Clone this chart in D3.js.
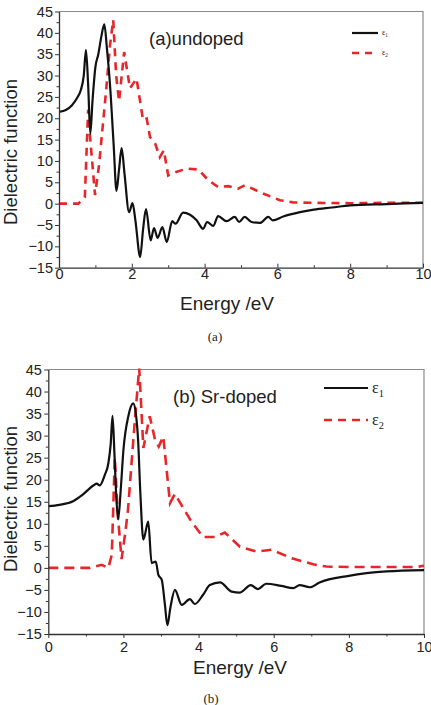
<!DOCTYPE html>
<html>
<head>
<meta charset="utf-8">
<script src="https://cdn.jsdelivr.net/npm/d3@7"></script>
<style>
  body { margin: 0; background: #fff; }
  svg { display: block; }
  text { font-family: "Liberation Sans", Arial, sans-serif; fill: #222; }
  text.serif { font-family: "Liberation Serif", "Times New Roman", serif; }
</style>
</head>
<body>
<div id="chart"></div>
<script>
// panel (a) undoped
const aEps1E = [0,0.2,0.35,0.5,0.6,0.68,0.74,0.8,0.86,0.92,1.0,1.08,1.16,1.245,1.32,1.4,1.5,1.58,1.65,1.72,1.8,1.925,2.02,2.1,2.23,2.31,2.39,2.52,2.61,2.71,2.84,2.96,3.11,3.2,3.41,3.6,3.78,3.96,4.07,4.24,4.37,4.6,4.83,4.95,5.1,5.29,5.52,5.75,5.87,6.16,6.62,7,7.5,8,9,10];
const aEps1 = [21.5,22,23,24.8,26.6,30,36,28,16.4,24,32,35,39,42,36,28,14,3,8,13,7,-2,0.1,-4,-12.5,-6,-1.3,-8.6,-5.7,-8,-5.5,-9,-4.1,-4.7,-2.1,-2.6,-3.9,-5.9,-4.3,-5.2,-2.9,-4.1,-3.1,-4.3,-3.1,-4.3,-4.5,-3.1,-3.9,-3,-2,-1.4,-0.9,-0.4,-0.1,0.2];
const aEps2E = [0,0.53,0.71,0.8,0.86,0.99,1.1,1.2,1.3,1.4,1.49,1.57,1.65,1.79,1.95,2.13,2.31,2.41,2.5,2.64,2.77,2.88,3.0,3.14,3.51,3.83,4.1,4.37,4.65,4.92,5.11,5.6,6.07,6.43,7,8,9,10];
const aEps2 = [0,0,1.5,22,15,2,9,18,27,37,43,30,24,35.5,27,29.3,19.5,19.9,15.6,14.1,10.9,12.5,6.6,7.2,8.2,8.0,5.5,3.9,4.1,3.5,4.3,2.4,0.8,0.3,0.2,0.1,0.2,0.2];

// panel (b) Sr-doped
const bEps1E = [0,0.3,0.66,0.9,1.2,1.29,1.37,1.5,1.6,1.66,1.71,1.76,1.81,1.86,1.93,2.0,2.13,2.26,2.33,2.39,2.45,2.53,2.66,2.75,2.86,2.93,3.02,3.1,3.17,3.25,3.37,3.55,3.77,3.9,4.12,4.3,4.57,4.88,5.1,5.39,5.58,5.8,6.2,6.52,6.69,6.96,7.22,8,9,10];
const bEps1 = [14,14.3,15.1,16.5,18.7,19.1,18.7,21,23.8,28,34.5,26,16,11,18,26.8,34.4,37.3,35,29,17,6.4,10.5,1.1,1.4,-1.6,-2.7,-8,-13,-9,-5,-8.4,-7.1,-8.2,-6.1,-3.9,-3.3,-5.4,-5.6,-3.9,-4.8,-3.6,-4.1,-4.6,-3.9,-4.4,-3.3,-1.8,-0.8,-0.5];
const bEps2E = [0,1.1,1.42,1.6,1.69,1.77,1.85,1.95,2.05,2.12,2.2,2.3,2.42,2.53,2.7,2.84,2.94,3.06,3.24,3.37,3.59,3.81,4.12,4.43,4.7,5.1,5.54,5.94,6.48,7.05,7.4,8,9,9.8,10];
const bEps2 = [0,0,0.7,0,3,25,12,2,8,13,22,33,45.4,27.2,34.4,29.1,27.5,29.8,14.7,16.8,13.6,10.5,7,7,8,4.8,3.7,4.1,2.2,0.8,0.3,0.2,0.2,0.2,0.5];

const xTicks = [0,2,4,6,8,10];
const yTicks = [-15,-10,-5,0,5,10,15,20,25,30,35,40,45];

const W = 431, H = 705;
const svg = d3.select("#chart").append("svg").attr("width", W).attr("height", H);

function drawPanel(p) {
    const x = d3.scaleLinear().domain([0, 10]).range([p.left, p.right]);
    const y = d3.scaleLinear().domain([-15, 45]).range([p.bottom, p.top]);
    const g = svg.append("g");

    // frame (top + right grey)
    g.append("path")
        .attr("d", `M${p.left},${p.top}H${p.right}V${p.bottom}`)
        .attr("fill", "none").attr("stroke", "#8a8a8a").attr("stroke-width", 1.2);

    const clipId = "clip" + p.id;
    svg.append("clipPath").attr("id", clipId).append("rect")
        .attr("x", p.left).attr("y", p.top - 1)
        .attr("width", p.right - p.left).attr("height", p.bottom - p.top + 2);

    const line = d3.line().x(d => x(d[0])).y(d => y(d[1]));
    const smooth = d3.line().x(d => x(d[0])).y(d => y(d[1])).curve(d3.curveMonotoneX);

    g.append("path")
        .datum(p.e2E.map((e, i) => [e, p.e2[i]]))
        .attr("clip-path", `url(#${clipId})`)
        .attr("d", line)
        .attr("fill", "none").attr("stroke", "#e8262a").attr("stroke-width", 2.6)
        .attr("stroke-dasharray", p.dash);

    g.append("path")
        .datum(p.e1E.map((e, i) => [e, p.e1[i]]))
        .attr("clip-path", `url(#${clipId})`)
        .attr("d", smooth)
        .attr("fill", "none").attr("stroke", "#111").attr("stroke-width", 2.2)
        .attr("stroke-linejoin", "round");

    // axes
    const xAxis = d3.axisBottom(x).tickValues(xTicks).tickFormat(d3.format("d"))
        .tickSizeInner(p.xTickIn ? -4 : 4).tickSizeOuter(0);
    const xg = g.append("g").attr("transform", `translate(0,${p.bottom})`).call(xAxis);
    xg.selectAll("text").attr("font-size", 14.5).attr("y", p.xLabOff).attr("dy", 0).attr("font-family", null);
    g.append("g").attr("transform", `translate(0,${p.bottom})`)
        .call(d3.axisBottom(x).tickValues([1,3,5,7,9]).tickFormat("").tickSizeInner(p.xTickIn ? -2.5 : 2.5).tickSizeOuter(0))
        .select(".domain").remove();

    const yAxis = d3.axisLeft(y).tickValues(yTicks).tickFormat(d3.format("d"))
        .tickSizeInner(4).tickSizeOuter(0);
    const yg = g.append("g").attr("transform", `translate(${p.left},0)`).call(yAxis);
    yg.selectAll("text").attr("font-size", 14.5).attr("x", p.yLabOff).attr("font-family", null);
    g.append("g").attr("transform", `translate(${p.left},0)`)
        .call(d3.axisLeft(y).tickValues(d3.range(-12.5, 45, 5)).tickFormat("").tickSizeInner(2.5).tickSizeOuter(0))
        .select(".domain").remove();

    g.selectAll(".domain").attr("stroke", "#333").attr("stroke-width", 1.3);
    g.selectAll(".tick line").attr("stroke", "#333").attr("stroke-width", 1);

    // axis titles
    g.append("text")
        .attr("transform", `translate(${p.yTitleX},${p.yTitleY}) rotate(-90)`)
        .attr("text-anchor", "middle").attr("font-size", 18.5)
        .text("Dielectric function");
    g.append("text")
        .attr("x", p.xTitleX).attr("y", p.xTitleY)
        .attr("text-anchor", "middle").attr("font-size", 19)
        .text("Energy /eV");

    // panel title
    g.append("text")
        .attr("x", p.titleX).attr("y", p.titleY)
        .attr("font-size", 18.5)
        .text(p.title);

    // legend
    const lg = g.append("g");
    lg.append("line").attr("x1", p.legX1).attr("x2", p.legX2).attr("y1", p.legY1).attr("y2", p.legY1)
        .attr("stroke", "#111").attr("stroke-width", 2.2);
    lg.append("line").attr("x1", p.legX1).attr("x2", p.legX2).attr("y1", p.legY2).attr("y2", p.legY2)
        .attr("stroke", "#e8262a").attr("stroke-width", 2.6).attr("stroke-dasharray", p.legDash);
    [["1", p.legY1], ["2", p.legY2]].forEach(([s, yy]) => {
        const t = lg.append("text")
            .attr("class", "serif")
            .attr("x", p.legX2 + 4).attr("y", yy + p.legFont * 0.3)
            .attr("font-size", p.legFont);
        t.append("tspan").text("\u03b5");
        t.append("tspan").attr("font-size", p.legFont * 0.65).attr("dy", p.legFont * 0.25).text(s);
    });

    // caption
    svg.append("text")
        .attr("class", "serif")
        .attr("x", p.capX).attr("y", p.capY)
        .attr("text-anchor", "middle")
        .attr("font-size", 13)
        .text(p.caption);
}

drawPanel({
    id: "a", left: 59, right: 423, top: 11.5, bottom: 267.7,
    e1E: aEps1E, e1: aEps1, e2E: aEps2E, e2: aEps2, dash: "8,6",
    xTickIn: true, xLabOff: 11.5, yLabOff: -6,
    yTitleX: 17, yTitleY: 152, xTitleX: 227, xTitleY: 310,
    title: "(a)undoped", titleX: 149, titleY: 45,
    legX1: 352, legX2: 378, legY1: 33, legY2: 53, legDash: "7,6", legFont: 8,
    caption: "(a)", capX: 215, capY: 341
});

drawPanel({
    id: "b", left: 48.3, right: 424, top: 369.5, bottom: 634,
    e1E: bEps1E, e1: bEps1, e2E: bEps2E, e2: bEps2, dash: "10,6",
    xTickIn: false, xLabOff: 17.5, yLabOff: -6.5,
    yTitleX: 17, yTitleY: 499, xTitleX: 240, xTitleY: 674,
    title: "(b) Sr-doped", titleX: 173, titleY: 403,
    legX1: 324, legX2: 368, legY1: 388, legY2: 420, legDash: "8,6", legFont: 16,
    caption: "(b)", capX: 211, capY: 703
});
</script>
</body>
</html>
